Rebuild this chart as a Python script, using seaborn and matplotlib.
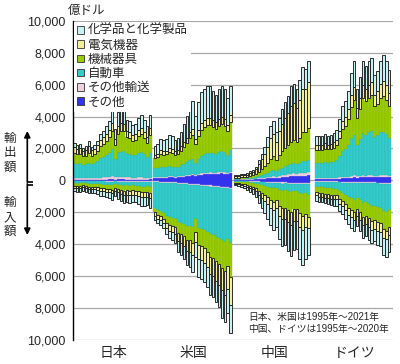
import numpy as np
import pandas as pd
import seaborn as sns
import matplotlib.pyplot as plt
from matplotlib.patches import Patch
from matplotlib.ticker import FuncFormatter

sns.set_style("white")
plt.rcParams['font.family'] = ['Liberation Sans', 'Noto Sans CJK JP']

countries = ["日本", "米国", "中国", "ドイツ"]
layers = ["その他", "その他輸送", "自動車", "機械器具", "電気機器", "化学品と化学製品"]

# 億ドル, 日本・米国 1995-2021, 中国・ドイツ 1995-2020
jp_exp_other = [40, 40, 40, 35, 35, 40, 35, 35, 40, 45, 45, 50, 55, 60, 45, 55, 55, 55, 50, 50, 45, 45, 50, 50, 50, 45, 55]
jp_exp_trans = [110, 100, 100, 100, 100, 110, 100, 110, 120, 130, 140, 150, 170, 190, 160, 180, 170, 160, 140, 130, 120, 120, 130, 130, 120, 110, 120]
jp_exp_auto = [950, 880, 920, 850, 860, 950, 880, 950, 1050, 1200, 1250, 1380, 1500, 1700, 1150, 1550, 1550, 1600, 1500, 1500, 1400, 1450, 1550, 1600, 1500, 1300, 1550]
jp_exp_mach = [640, 600, 600, 540, 560, 640, 540, 560, 620, 760, 820, 900, 960, 1150, 850, 1150, 1300, 1250, 1020, 980, 900, 930, 1030, 1100, 1000, 900, 1120]
jp_exp_elec = [380, 370, 360, 330, 360, 410, 330, 330, 370, 420, 430, 450, 460, 500, 400, 480, 490, 470, 400, 390, 370, 380, 400, 420, 390, 380, 420]
jp_exp_chem = [230, 210, 230, 195, 235, 300, 215, 215, 250, 345, 415, 470, 555, 800, 600, 885, 935, 915, 690, 650, 615, 625, 740, 800, 740, 665, 835]

jp_imp_other = [20, 20, 20, 20, 20, 25, 25, 25, 25, 30, 30, 30, 30, 35, 30, 35, 40, 40, 40, 40, 40, 40, 40, 45, 45, 45, 50]
jp_imp_trans = [30, 30, 30, 25, 30, 35, 35, 35, 35, 40, 40, 45, 45, 50, 40, 40, 45, 50, 50, 55, 50, 50, 55, 60, 60, 55, 55]
jp_imp_auto = [140, 150, 140, 120, 130, 150, 150, 150, 160, 180, 190, 190, 200, 210, 170, 200, 220, 240, 230, 240, 230, 240, 250, 280, 280, 260, 300]
jp_imp_mach = [150, 165, 165, 155, 170, 190, 195, 190, 200, 220, 230, 245, 255, 280, 230, 265, 300, 320, 310, 320, 310, 310, 335, 370, 370, 360, 400]
jp_imp_elec = [120, 130, 130, 120, 130, 150, 150, 150, 160, 180, 190, 200, 210, 220, 190, 220, 250, 270, 260, 270, 260, 260, 280, 300, 300, 300, 330]
jp_imp_chem = [190, 205, 215, 210, 220, 250, 245, 250, 270, 300, 320, 340, 360, 405, 340, 390, 445, 480, 470, 475, 460, 450, 490, 545, 545, 530, 615]

us_exp_other = [120, 130, 150, 150, 160, 180, 180, 170, 180, 200, 220, 250, 280, 310, 280, 320, 360, 380, 400, 410, 400, 390, 410, 430, 420, 380, 450]
us_exp_trans = [60, 60, 65, 65, 65, 70, 70, 65, 65, 70, 75, 80, 85, 90, 80, 85, 90, 90, 90, 90, 85, 85, 90, 90, 85, 75, 85]
us_exp_auto = [570, 590, 640, 620, 620, 660, 610, 600, 620, 680, 750, 820, 900, 930, 700, 950, 1080, 1150, 1200, 1230, 1220, 1200, 1250, 1300, 1280, 1150, 1380]
us_exp_mach = [640, 690, 800, 770, 780, 870, 830, 760, 790, 910, 1050, 1200, 1400, 1500, 1200, 1450, 1650, 1700, 1750, 1750, 1650, 1550, 1650, 1700, 1650, 1500, 1720]
us_exp_elec = [190, 200, 220, 220, 230, 260, 250, 230, 240, 270, 300, 330, 370, 390, 340, 380, 420, 430, 440, 430, 410, 400, 420, 430, 420, 380, 430]
us_exp_chem = [590, 620, 735, 725, 745, 830, 810, 725, 775, 930, 1105, 1330, 1615, 1750, 1410, 1715, 1940, 1980, 2040, 2010, 1835, 1725, 1910, 1970, 1875, 1675, 1855]

us_imp_other = [60, 70, 80, 90, 100, 110, 120, 130, 150, 160, 170, 190, 200, 220, 200, 250, 260, 280, 300, 320, 340, 360, 380, 400, 420, 420, 450]
us_imp_trans = [50, 50, 55, 55, 60, 60, 60, 60, 60, 60, 65, 65, 65, 70, 60, 65, 65, 65, 65, 65, 65, 65, 65, 65, 65, 55, 60]
us_imp_auto = [1650, 1750, 1800, 1900, 2050, 2150, 2150, 2200, 2400, 2450, 2500, 2600, 2600, 2650, 2150, 2700, 2700, 2750, 2850, 3000, 3000, 3100, 3150, 3250, 3350, 3200, 3440]
us_imp_mach = [250, 290, 320, 360, 430, 480, 520, 560, 680, 720, 780, 870, 900, 970, 820, 1050, 1100, 1150, 1250, 1400, 1450, 1550, 1650, 1750, 1850, 1700, 2100]
us_imp_elec = [220, 240, 250, 280, 330, 370, 400, 430, 510, 550, 600, 680, 720, 780, 660, 850, 880, 920, 990, 1100, 1150, 1220, 1300, 1420, 1480, 1400, 1780]
us_imp_chem = [250, 280, 295, 315, 410, 460, 510, 570, 660, 710, 785, 885, 925, 1040, 890, 1135, 1175, 1205, 1235, 1315, 1315, 1345, 1415, 1715, 1685, 1525, 1720]

cn_exp_other = [30, 30, 35, 35, 40, 45, 50, 60, 70, 90, 100, 120, 140, 160, 140, 170, 190, 210, 230, 250, 260, 250, 270, 300, 300, 320]
cn_exp_trans = [20, 20, 20, 20, 25, 30, 35, 40, 50, 60, 70, 80, 100, 110, 100, 120, 130, 140, 150, 160, 170, 160, 170, 180, 180, 190]
cn_exp_auto = [50, 50, 55, 55, 60, 70, 80, 100, 140, 180, 230, 290, 360, 400, 330, 420, 480, 520, 560, 620, 640, 600, 660, 730, 720, 760]
cn_exp_mach = [60, 60, 70, 75, 90, 120, 140, 180, 270, 360, 470, 600, 760, 840, 700, 900, 1050, 1150, 1250, 1400, 1450, 1380, 1550, 1800, 1850, 2040]
cn_exp_elec = [90, 100, 125, 130, 150, 210, 250, 320, 475, 630, 800, 1030, 1290, 1400, 1140, 1480, 1710, 1860, 2010, 2240, 2300, 2170, 2400, 2700, 2660, 2870]
cn_exp_chem = [70, 70, 75, 75, 85, 105, 125, 150, 245, 330, 430, 580, 750, 790, 590, 810, 940, 1020, 1100, 1230, 1230, 1140, 1250, 1390, 1290, 1320]

cn_imp_other = [30, 30, 35, 35, 40, 45, 50, 55, 65, 75, 80, 90, 100, 110, 100, 120, 130, 130, 140, 150, 140, 140, 150, 160, 150, 150]
cn_imp_trans = [20, 20, 20, 25, 25, 30, 30, 35, 40, 45, 50, 55, 60, 65, 60, 70, 70, 65, 65, 65, 60, 60, 65, 65, 60, 60]
cn_imp_auto = [40, 45, 50, 55, 65, 80, 90, 110, 150, 180, 210, 250, 290, 320, 300, 390, 440, 430, 480, 520, 470, 470, 560, 620, 600, 700]
cn_imp_mach = [80, 95, 115, 135, 170, 210, 235, 300, 400, 490, 580, 670, 780, 860, 800, 1000, 1100, 1080, 1180, 1250, 1140, 1120, 1280, 1370, 1300, 1400]
cn_imp_elec = [50, 60, 70, 80, 100, 125, 140, 175, 235, 290, 350, 410, 480, 530, 500, 630, 700, 690, 760, 810, 740, 730, 840, 900, 830, 700]
cn_imp_chem = [80, 100, 130, 150, 200, 250, 285, 375, 510, 640, 780, 925, 1090, 1215, 1140, 1490, 1660, 1655, 1825, 1955, 1800, 1780, 2055, 2185, 1960, 1690]

de_exp_other = [70, 70, 70, 75, 75, 80, 85, 90, 105, 120, 130, 145, 170, 190, 160, 180, 200, 190, 200, 210, 190, 195, 210, 220, 210, 200]
de_exp_trans = [60, 60, 60, 60, 60, 60, 65, 70, 75, 85, 90, 95, 110, 120, 100, 105, 115, 110, 110, 110, 95, 100, 105, 100, 100, 90]
de_exp_auto = [950, 950, 950, 1000, 980, 980, 1030, 1100, 1350, 1650, 1750, 1950, 2350, 2550, 1950, 2300, 2650, 2550, 2700, 2800, 2450, 2550, 2700, 2740, 2600, 2350]
de_exp_mach = [830, 820, 810, 860, 820, 840, 870, 930, 1130, 1350, 1450, 1650, 1980, 2200, 1700, 1900, 2200, 2100, 2150, 2200, 1900, 1950, 2150, 2230, 2150, 2000]
de_exp_elec = [320, 320, 310, 330, 310, 320, 330, 350, 420, 510, 540, 610, 720, 800, 620, 700, 800, 770, 800, 830, 740, 780, 870, 920, 900, 830]
de_exp_chem = [570, 560, 560, 575, 535, 570, 570, 610, 770, 935, 990, 1150, 1370, 1590, 1220, 1315, 1535, 1430, 1540, 1500, 1225, 1275, 1465, 1640, 1540, 1430]

de_imp_other = [60, 60, 60, 65, 65, 70, 70, 70, 80, 85, 90, 100, 105, 110, 100, 110, 120, 120, 125, 130, 130, 135, 140, 150, 150, 145]
de_imp_trans = [40, 40, 40, 40, 40, 45, 45, 45, 50, 50, 55, 55, 60, 60, 55, 60, 60, 60, 60, 60, 60, 60, 60, 60, 60, 55]
de_imp_auto = [300, 340, 340, 360, 380, 390, 410, 410, 550, 630, 760, 900, 970, 1050, 950, 1050, 1230, 1200, 1300, 1400, 1400, 1450, 1500, 1700, 1780, 1650]
de_imp_mach = [320, 350, 350, 370, 380, 390, 410, 410, 480, 530, 600, 680, 730, 780, 700, 780, 880, 850, 900, 950, 920, 970, 1000, 1150, 1180, 1100]
de_imp_elec = [210, 230, 230, 240, 250, 255, 260, 260, 300, 330, 370, 410, 440, 470, 420, 460, 520, 500, 520, 540, 520, 550, 560, 520, 530, 500]
de_imp_chem = [340, 360, 360, 365, 375, 380, 395, 395, 450, 495, 565, 615, 665, 710, 645, 720, 800, 770, 805, 850, 790, 865, 880, 1090, 1080, 1010]

exports = {
    "日本": [jp_exp_other, jp_exp_trans, jp_exp_auto, jp_exp_mach, jp_exp_elec, jp_exp_chem],
    "米国": [us_exp_other, us_exp_trans, us_exp_auto, us_exp_mach, us_exp_elec, us_exp_chem],
    "中国": [cn_exp_other, cn_exp_trans, cn_exp_auto, cn_exp_mach, cn_exp_elec, cn_exp_chem],
    "ドイツ": [de_exp_other, de_exp_trans, de_exp_auto, de_exp_mach, de_exp_elec, de_exp_chem],
}
imports = {
    "日本": [jp_imp_other, jp_imp_trans, jp_imp_auto, jp_imp_mach, jp_imp_elec, jp_imp_chem],
    "米国": [us_imp_other, us_imp_trans, us_imp_auto, us_imp_mach, us_imp_elec, us_imp_chem],
    "中国": [cn_imp_other, cn_imp_trans, cn_imp_auto, cn_imp_mach, cn_imp_elec, cn_imp_chem],
    "ドイツ": [de_imp_other, de_imp_trans, de_imp_auto, de_imp_mach, de_imp_elec, de_imp_chem],
}

# layout: first bar slot of each country group
group_start = {"日本": 0, "米国": 27.6, "中国": 55.3, "ドイツ": 83.0}

colors = {
    "化学品と化学製品": "#c8f1f3",
    "電気機器": "#f3ef9c",
    "機械器具": "#99cc00",
    "自動車": "#33cccc",
    "その他輸送": "#efd0de",
    "その他": "#3333ee",
}
# (edge colour, line width, bar width)
edges = {
    "化学品と化学製品": ("#1f1f1f", 0.65, 0.86),
    "電気機器": ("#1f1f1f", 0.65, 0.86),
    "機械器具": ("#86b300", 0.25, 1.0),
    "自動車": ("#29b0b0", 0.25, 1.0),
    "その他輸送": ("#e3c2d2", 0.2, 1.0),
    "その他": ("#3333ee", 0.2, 1.0),
}

rows = []
for direction, src, sign in [("exp", exports, 1), ("imp", imports, -1)]:
    for c in countries:
        for layer, vals in zip(layers, src[c]):
            for i, v in enumerate(vals):
                rows.append((direction, c, layer, group_start[c] + i, sign * v))
df = pd.DataFrame(rows, columns=["dir", "country", "layer", "pos", "value"])
df["layer"] = pd.Categorical(df["layer"], layers, ordered=True)
df = df.sort_values(["dir", "pos", "layer"])
df["top"] = df.groupby(["dir", "pos"], observed=True)["value"].cumsum()
df["bottom"] = df["top"] - df["value"]

fig = plt.figure(figsize=(4, 3.64), dpi=100)
ax = fig.add_axes([0.18175, 0.0659, 0.80075, 0.8772])

for direction in ["exp", "imp"]:
    for layer in layers:
        sub = df[(df["dir"] == direction) & (df["layer"] == layer)].sort_values("pos")
        ec, lw, w = edges[layer]
        sns.barplot(x=sub["pos"].values, y=sub["value"].values, bottom=sub["bottom"].values,
                    native_scale=True, orient="x", width=w, color=colors[layer],
                    saturation=1, errorbar=None, edgecolor=ec, linewidth=lw, ax=ax)

ax.set_xlim(-0.55, 109.3)
ax.set_ylim(-10000, 10000)
ax.set_yticks(np.arange(-10000, 10001, 2000))
ax.yaxis.set_major_formatter(FuncFormatter(lambda v, p: f"{abs(int(round(v))):,}"))
ax.grid(axis="y", color="#a8a8a8", linewidth=0.9)
ax.set_axisbelow(True)
for s in ["top", "right", "bottom"]:
    ax.spines[s].set_visible(False)
ax.spines["left"].set_color("black")
ax.spines["left"].set_linewidth(1.0)
ax.tick_params(axis="y", direction="in", length=4, width=1, color="black", labelsize=9, pad=5)
ax.set_xticks([group_start[c] + 13.3 for c in countries])
ax.set_xticklabels(countries, fontsize=10)
ax.tick_params(axis="x", length=0, pad=4)
ax.set_xlabel("")
ax.set_ylabel("")

handles = [Patch(facecolor=colors[l], edgecolor="#333333", linewidth=0.6, label=l) for l in layers[::-1]]
leg = ax.legend(handles=handles, loc="upper left", bbox_to_anchor=(0.0, 1.0), fontsize=9,
                handlelength=0.55, handleheight=0.55, handletextpad=0.3, labelspacing=0.18,
                borderpad=0.25, borderaxespad=0.1, frameon=True, fancybox=False, framealpha=1)
leg.get_frame().set_linewidth(0)

# overlay in pixel coordinates for the outside annotations
ov = fig.add_axes([0, 0, 1, 1], zorder=5)
ov.set_xlim(0, 400)
ov.set_ylim(364, 0)
ov.axis("off")
ov.patch.set_alpha(0)

ov.text(68, 11, "億ドル", fontsize=9, ha="left", va="center")
for ch, y in zip("輸出額", [139, 153, 167.5]):
    ov.text(10, y, ch, fontsize=9, ha="center", va="center")
for ch, y in zip("輸入額", [203, 218, 232]):
    ov.text(10, y, ch, fontsize=9, ha="center", va="center")
ov.plot([33, 27.3], [181.5, 181.5], color="black", lw=1.2, solid_capstyle="butt")
ov.plot([33, 27.3], [184.5, 184.5], color="black", lw=1.2, solid_capstyle="butt")
ov.annotate("", xy=(27.3, 131), xytext=(27.3, 182.1),
            arrowprops=dict(arrowstyle="-|>", lw=1.2, color="black", mutation_scale=9, shrinkA=0, shrinkB=0))
ov.annotate("", xy=(27.3, 235), xytext=(27.3, 183.9),
            arrowprops=dict(arrowstyle="-|>", lw=1.2, color="black", mutation_scale=9, shrinkA=0, shrinkB=0))

ov.text(248, 317, "日本、米国は1995年～2021年", fontsize=7, ha="left", va="center")
ov.text(248, 329, "中国、ドイツは1995年～2020年", fontsize=7, ha="left", va="center")

fig.savefig("out.png", dpi=100)
